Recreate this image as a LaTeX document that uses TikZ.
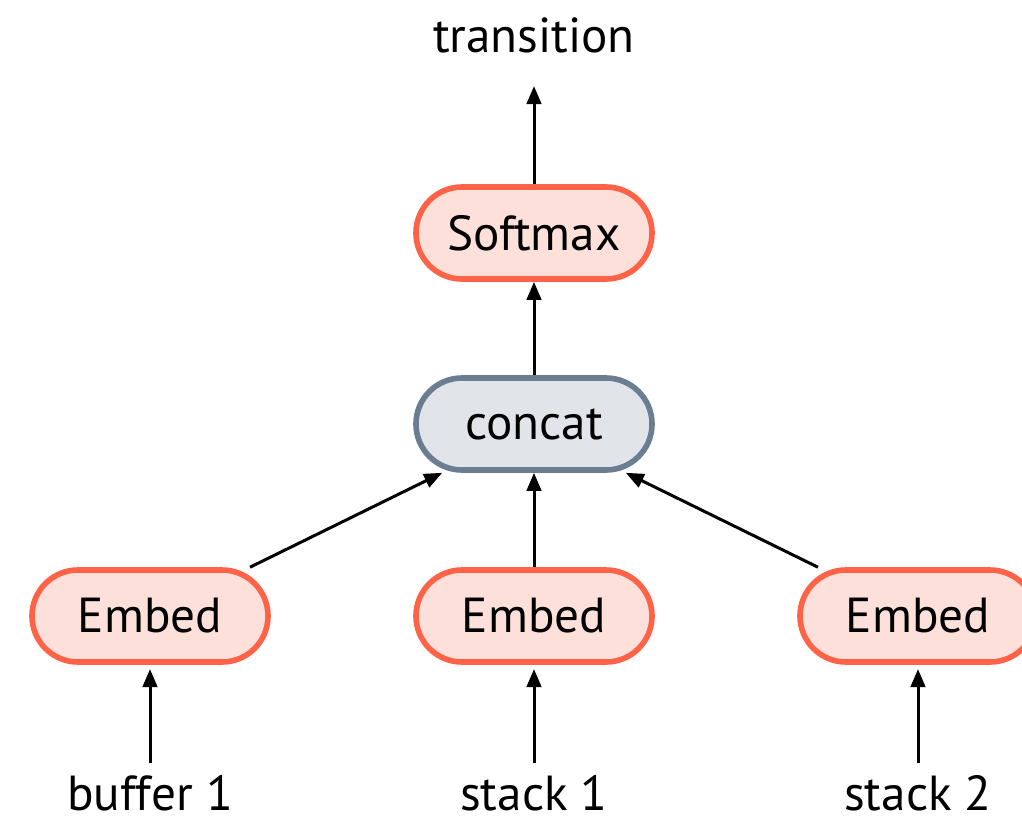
\documentclass[tikz,border=0pt]{standalone}
\usepackage{fontspec}
\setmainfont{PT Sans}
\usetikzlibrary{arrows.meta}
\definecolor{redline}{HTML}{FF6347}
\definecolor{redfill}{HTML}{FDE0DA}
\definecolor{greyline}{HTML}{6A7D91}
\definecolor{greyfill}{HTML}{E1E4E9}

\begin{document}
\begin{tikzpicture}[x=0.025cm,y=-0.025cm,
  box/.style={draw=redline,fill=redfill,line width=0.14cm,rounded corners=1.15cm,
    minimum width=5.9cm,minimum height=2.3cm,font=\fontsize{35}{40}\selectfont},
  lbl/.style={font=\fontsize{35}{40}\selectfont,inner sep=0pt,text depth=0pt,anchor=base},
  link/.style={line width=0.075cm,-{Triangle[length=0.45cm,width=0.36cm]}}]
\useasboundingbox (0,0) rectangle (1022,823);
% layers
\node[box] (soft) at (534,233) {Softmax};
\node[box,draw=greyline,fill=greyfill] (cat) at (534,424) {concat};
\node[box] (emb1) at (150,616) {Embed};
\node[box] (emb2) at (534,616) {Embed};
\node[box] (emb3) at (918,616) {Embed};
% inputs and output
\node[lbl] (out) at (534,52) {transition};
\node[lbl] (buf) at (150,810) {buffer 1};
\node[lbl] (st1) at (534,810) {stack 1};
\node[lbl] (st2) at (918,810) {stack 2};
\draw[link,shorten <=8pt,shorten >=3pt] (buf) -- (emb1);
\draw[link,shorten <=8pt,shorten >=3pt] (st1) -- (emb2);
\draw[link,shorten <=8pt,shorten >=3pt] (st2) -- (emb3);
\draw[link] (emb1.26) -- (cat.208);
\draw[link] (emb2) -- (cat);
\draw[link] (emb3.154) -- (cat.332);
\draw[link] (cat) -- (soft);
\draw[link,shorten >=24pt] (soft) -- (out);
\end{tikzpicture}
\end{document}
